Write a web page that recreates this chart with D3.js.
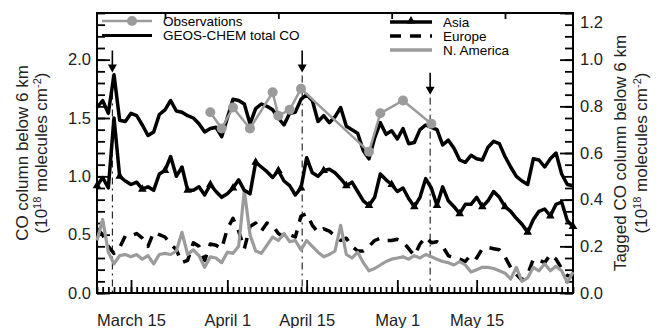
<!DOCTYPE html>
<html>
<head>
<meta charset="utf-8">
<script src="https://cdn.jsdelivr.net/npm/d3@7"></script>
<style>
body { margin: 0; background: #fff; }
svg { font-family: "Liberation Sans", Arial, Helvetica, sans-serif; }
</style>
</head>
<body>
<div id="chart"></div>
<script>
// Model output, one value per day from modelStart
var modelStart = "2001-03-09";
// GEOS-CHEM total CO (left axis, 1e18 molec/cm2)
var totalCO = [1.59,1.65,1.54,1.87,1.48,1.47,1.54,1.52,1.44,1.35,
  1.38,1.53,1.57,1.65,1.56,1.55,1.52,1.50,1.45,1.38,
  1.41,1.42,1.34,1.50,1.66,1.65,1.62,1.45,1.58,1.62,
  1.60,1.57,1.50,1.44,1.54,1.55,1.66,1.70,1.65,1.47,
  1.52,1.46,1.51,1.59,1.43,1.40,1.37,1.22,1.15,1.33,
  1.46,1.36,1.39,1.32,1.41,1.28,1.29,1.40,1.44,1.42,
  1.40,1.27,1.31,1.24,1.14,1.12,1.18,1.15,1.14,1.25,
  1.30,1.28,1.17,1.08,1.00,0.96,0.93,1.15,1.14,1.08,
  1.15,1.20,1.02,0.93,0.92];
// tagged CO (right axis)
var asiaCO = [0.46,0.495,0.45,0.75,0.50,0.48,0.465,0.475,0.445,0.455,
  0.44,0.51,0.525,0.585,0.50,0.54,0.44,0.44,0.455,0.42,
  0.465,0.435,0.41,0.425,0.45,0.485,0.44,0.425,0.56,0.54,
  0.52,0.495,0.525,0.48,0.46,0.42,0.45,0.58,0.515,0.50,
  0.525,0.53,0.515,0.49,0.46,0.475,0.435,0.395,0.375,0.41,
  0.51,0.485,0.465,0.435,0.45,0.405,0.37,0.41,0.49,0.45,
  0.375,0.455,0.395,0.37,0.34,0.38,0.38,0.41,0.37,0.395,
  0.435,0.41,0.37,0.35,0.32,0.295,0.26,0.315,0.35,0.36,
  0.33,0.38,0.39,0.31,0.285];
var europeCO = [0.275,0.25,0.20,0.17,0.195,0.245,0.245,0.255,0.235,0.20,
  0.26,0.25,0.24,0.21,0.185,0.13,0.14,0.215,0.20,0.14,
  0.21,0.205,0.19,0.275,0.32,0.265,0.19,0.285,0.30,0.265,
  0.30,0.29,0.255,0.24,0.25,0.24,0.33,0.34,0.29,0.26,
  0.275,0.265,0.245,0.225,0.235,0.20,0.18,0.18,0.20,0.225,
  0.235,0.225,0.225,0.23,0.22,0.19,0.16,0.21,0.24,0.215,
  0.22,0.20,0.16,0.15,0.145,0.135,0.165,0.15,0.19,0.195,
  0.19,0.185,0.155,0.11,0.08,0.055,0.08,0.145,0.14,0.13,
  0.165,0.145,0.105,0.075,0.07];
var namericaCO = [0.225,0.315,0.175,0.125,0.16,0.165,0.155,0.165,0.145,0.16,
  0.125,0.165,0.17,0.165,0.18,0.26,0.165,0.185,0.16,0.11,
  0.155,0.15,0.13,0.175,0.17,0.20,0.44,0.25,0.18,0.17,
  0.205,0.24,0.225,0.255,0.22,0.225,0.185,0.225,0.20,0.175,
  0.155,0.165,0.18,0.29,0.165,0.15,0.175,0.13,0.095,0.105,
  0.12,0.135,0.145,0.15,0.155,0.145,0.16,0.15,0.165,0.155,
  0.145,0.135,0.13,0.12,0.135,0.12,0.09,0.10,0.11,0.11,
  0.105,0.095,0.085,0.06,0.11,0.05,0.065,0.11,0.095,0.125,
  0.095,0.115,0.095,0.045,0.09];

// observed columns (left axis)
var obsDates = ["2001-03-29","2001-03-31","2001-04-02","2001-04-05","2001-04-09","2001-04-10",
  "2001-04-12","2001-04-14","2001-04-26","2001-04-28","2001-05-02","2001-05-07"];
var obsValues = [1.55,1.41,1.59,1.41,1.72,1.52,1.57,1.75,1.21,1.54,1.65,1.45];

// marked events
var arrowDates = ["2001-03-11T17:00Z","2001-04-14T05:00Z","2001-05-06T19:00Z"];
var arrowTips = [1.89,1.89,1.70];

var dateTicks = ["2001-03-15","2001-04-01","2001-04-15","2001-05-01","2001-05-15"];
var dateLabels = ["March 15","April 1","April 15","May 1","May 15"];
var topTicks = ["2001-03-21","2001-04-10","2001-04-30","2001-05-20"];
var leftTicks = [0,0.5,1.0,1.5,2.0];
var rightTicks = [0,0.2,0.4,0.6,0.8,1.0,1.2];

var width = 664, height = 328;
var margin = {top: 13, right: 91, bottom: 35, left: 97};
var x0 = margin.left, x1 = width - margin.right;
var y0 = height - margin.bottom, y1 = margin.top;

var svg = d3.select("#chart").append("svg")
  .attr("width", width).attr("height", height);

var parse = function(s){ return new Date(s.length == 10 ? s + "T00:00Z" : s); };
var start = parse(modelStart);

var x = d3.scaleUtc()
  .domain([start, parse("2001-06-01")])
  .range([x0, x1]);
var yL = d3.scaleLinear().domain([0, 2.4]).range([y0, y1]);
var yR = d3.scaleLinear().domain([0, 1.2]).range([y0, y1]);

var dayX = function(d, i){ return x(d3.utcDay.offset(start, i)); };

/********** axes **********/
function styleAxis(g){
  g.select(".domain").remove();
  g.selectAll(".tick line").attr("stroke", "#000").attr("stroke-width", 1.8);
  g.selectAll(".tick text").attr("fill", "#222").style("font-size", "16.5px");
}

// left
svg.append("g").attr("transform", "translate(" + x0 + ",0)")
  .call(d3.axisLeft(yL).tickValues(d3.range(0, 2.41, 0.1)).tickSize(-8).tickFormat(""))
  .call(styleAxis);
svg.append("g").attr("transform", "translate(" + x0 + ",0)")
  .call(d3.axisLeft(yL).tickValues(leftTicks).tickSize(-13).tickPadding(6).tickFormat(d3.format(".1f")))
  .call(styleAxis);

// right
svg.append("g").attr("transform", "translate(" + x1 + ",0)")
  .call(d3.axisRight(yR).tickValues(d3.range(0, 1.21, 0.05)).tickSize(-8).tickFormat(""))
  .call(styleAxis);
var rAx = svg.append("g").attr("transform", "translate(" + x1 + ",0)")
  .call(d3.axisRight(yR).tickValues(rightTicks).tickSize(-13).tickPadding(7).tickFormat(d3.format(".1f")))
  .call(styleAxis);
rAx.selectAll(".tick text").filter(function(d){ return d == 1.2; }).attr("dy", "0.9em");

// bottom
svg.append("g").attr("transform", "translate(0," + y0 + ")")
  .call(d3.axisBottom(x).ticks(d3.utcDay).tickSize(-6).tickFormat(""))
  .call(styleAxis);
svg.append("g").attr("transform", "translate(0," + y0 + ")")
  .call(d3.axisBottom(x).tickValues(dateTicks.map(parse)).tickSize(-13).tickPadding(21)
    .tickFormat(function(d, i){ return dateLabels[i]; }))
  .call(styleAxis);

// top
svg.append("g").attr("transform", "translate(0," + y1 + ")")
  .call(d3.axisTop(x).tickValues(topTicks.map(parse)).tickSize(-6).tickFormat(""))
  .call(styleAxis);

// frame
svg.append("rect")
  .attr("x", x0).attr("y", y1).attr("width", x1 - x0).attr("height", y0 - y1)
  .attr("fill", "none").attr("stroke", "#000").attr("stroke-width", 2);

/********** event markers **********/
var ev = svg.append("g");
arrowDates.forEach(function(s, i){
  var ax = x(parse(s)), ty = yL(arrowTips[i]);
  ev.append("line").attr("x1", ax).attr("x2", ax).attr("y1", ty + 3).attr("y2", y0)
    .attr("stroke", "#000").attr("stroke-width", 1).attr("stroke-dasharray", "7,4,2,4");
  ev.append("line").attr("x1", ax).attr("x2", ax).attr("y1", ty - 22).attr("y2", ty - 6)
    .attr("stroke", "#000").attr("stroke-width", 1.6);
  ev.append("path")
    .attr("d", "M" + (ax - 4.5) + "," + (ty - 8) + "L" + (ax + 4.5) + "," + (ty - 8) + "L" + ax + "," + ty + "Z")
    .attr("fill", "#000");
});

/********** series **********/
var grey = "#9b9b9b";
var lineL = d3.line().x(dayX).y(function(d){ return yL(d); });
var lineR = d3.line().x(dayX).y(function(d){ return yR(d); });

var plot = svg.append("g");
function drawLine(data, gen, color, w, dash){
  plot.append("path")
    .attr("d", gen(data))
    .attr("fill", "none")
    .attr("stroke", color)
    .attr("stroke-width", w)
    .attr("stroke-linejoin", "round")
    .attr("stroke-dasharray", dash || null);
}
drawLine(europeCO, lineR, "#000", 3.5, "11,9");
drawLine(namericaCO, lineR, grey, 3.2);
drawLine(asiaCO, lineR, "#000", 3.5);
drawLine(totalCO, lineL, "#000", 3.5);

// triangles on Asia every 4 days
var tri = d3.symbol().type(d3.symbolTriangle).size(32);
plot.selectAll(".tri")
  .data(asiaCO.map(function(v, i){ return [i, v]; }).filter(function(d){ return d[0] % 4 == 0; }))
  .enter().append("path")
  .attr("d", tri)
  .attr("transform", function(d){ return "translate(" + dayX(null, d[0]) + "," + yR(d[1]) + ")"; })
  .attr("fill", "#000");

// observations
var obs = obsDates.map(function(s, i){ return {t: parse(s), v: obsValues[i]}; });
plot.append("path")
  .attr("d", d3.line().x(function(d){ return x(d.t); }).y(function(d){ return yL(d.v); })(obs))
  .attr("fill", "none").attr("stroke", grey).attr("stroke-width", 2.5);
plot.selectAll(".obs").data(obs).enter().append("circle")
  .attr("cx", function(d){ return x(d.t); })
  .attr("cy", function(d){ return yL(d.v); })
  .attr("r", 5).attr("fill", grey);

/********** legends **********/
var leg = svg.append("g").style("font-size", "13.5px");
function legendText(tx, ty, txt){
  leg.append("text").attr("x", tx).attr("y", ty).attr("dy", "0.35em").text(txt);
}
function legendLine(lx1, lx2, ly, color, w, dash){
  leg.append("line").attr("x1", lx1).attr("x2", lx2).attr("y1", ly).attr("y2", ly)
    .attr("stroke", color).attr("stroke-width", w).attr("stroke-dasharray", dash || null);
}
legendLine(102, 152, 21, grey, 2.5);
leg.append("circle").attr("cx", 132).attr("cy", 21).attr("r", 5).attr("fill", grey);
legendText(163, 21, "Observations");
legendLine(102, 152, 35.5, "#000", 3);
legendText(163, 35.5, "GEOS-CHEM total CO");

legendLine(390, 432, 22, "#000", 3.5);
leg.append("path").attr("d", tri).attr("transform", "translate(411,21)").attr("fill", "#000");
legendText(443, 22, "Asia");
legendLine(390, 432, 36, "#000", 3.5, "11,9");
legendText(443, 36, "Europe");
legendLine(390, 432, 50, grey, 3.5);
legendText(443, 50, "N. America");

/********** axis titles **********/
function title(tx, lines){
  var t = svg.append("g").attr("transform", "translate(" + tx + "," + ((y0 + y1) / 2) + ") rotate(-90)")
    .style("font-size", "17px").attr("fill", "#222");
  var el = t.append("text").attr("text-anchor", "middle").attr("dy", "0.35em");
  lines.forEach(function(p){
    el.append("tspan").text(p[0])
      .attr("baseline-shift", p[1] ? "super" : null)
      .style("font-size", p[1] ? "11px" : null);
  });
}
title(22, [["CO column below 6 km"]]);
title(41, [["(10"], ["18", 1], [" molecules cm"], ["-2", 1], [")"]]);
title(620, [["Tagged CO column below 6 km"]]);
title(641, [["(10"], ["18", 1], [" molecules cm"], ["-2", 1], [")"]]);
</script>
</body>
</html>
